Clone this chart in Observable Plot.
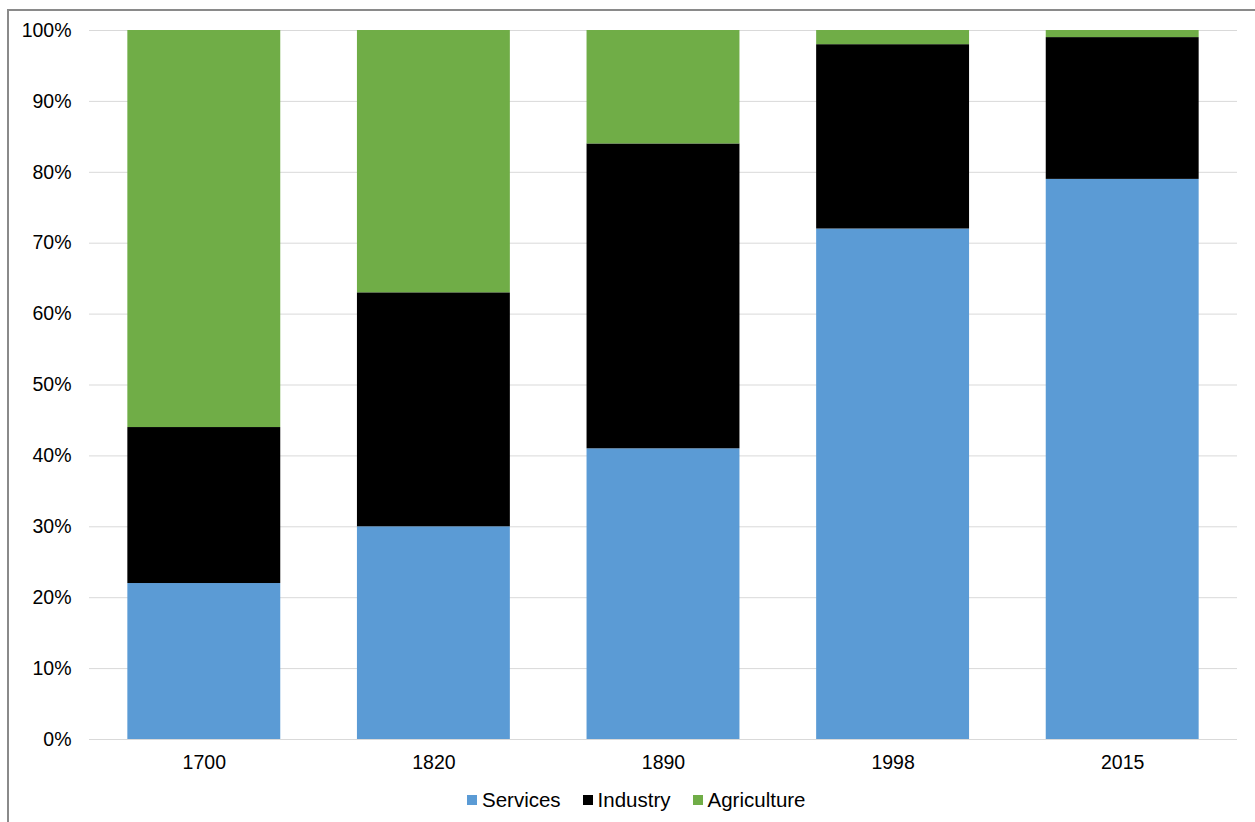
<!DOCTYPE html>
<html>
<head>
<meta charset="utf-8">
<script src="https://cdn.jsdelivr.net/npm/d3@7"></script>
<script src="https://cdn.jsdelivr.net/npm/@observablehq/plot@0.6"></script>
<style>
  html, body { margin: 0; padding: 0; background: #fff; overflow: hidden; }
  #page { position: relative; width: 1255px; height: 822px; font-family: "Liberation Sans", Arial, sans-serif; }
  #frame { position: absolute; left: 7px; top: 9px; width: 1300px; height: 900px; border-left: 2px solid #8a8a8a; border-top: 2px solid #8a8a8a; box-sizing: border-box; }
  #chart { position: absolute; left: 0; top: 0; }
  #legend { position: absolute; left: 467px; top: 788px; display: flex; align-items: center; font-size: 20.5px; color: #000; white-space: nowrap; }
  .item { display: flex; align-items: center; margin-right: 22px; }
  .sw { width: 10px; height: 10px; margin-right: 5px; }
</style>
</head>
<body>
<div id="page">
  <div id="frame"></div>
  <div id="chart"></div>
  <div id="legend"></div>
</div>
<script>
const years = ["1700", "1820", "1890", "1998", "2015"];
const sectors = ["Services", "Industry", "Agriculture"];
const colors = ["#5B9BD5", "#000000", "#70AD47"];
const services = [22, 30, 41, 72, 79];
const industry = [22, 33, 43, 26, 20];
const agriculture = [56, 37, 16, 2, 1];
const yTicks = [0, 10, 20, 30, 40, 50, 60, 70, 80, 90, 100];

const series = [services, industry, agriculture];
const data = [];
years.forEach((yr, i) => {
  sectors.forEach((s, j) => data.push({year: yr, sector: s, value: series[j][i]}));
});

const chart = Plot.plot({
  width: 1255,
  height: 785,
  marginLeft: 89,
  marginRight: 18,
  marginTop: 30,
  marginBottom: 46,
  style: {fontFamily: "'Liberation Sans', Arial, sans-serif", fontSize: "19.5px", color: "#000", background: "transparent"},
  x: {domain: years, paddingInner: 0.334, paddingOuter: 0.167, round: false, label: null},
  y: {domain: [0, 100], label: null},
  color: {domain: sectors, range: colors},
  marks: [
    Plot.ruleY(yTicks, {stroke: "#d9d9d9", strokeWidth: 1}),
    Plot.barY(data, {x: "year", y: "value", fill: "sector", order: sectors}),
    Plot.axisY(yTicks, {tickSize: 0, tickPadding: 18, tickFormat: d => d + "%", label: null}),
    Plot.axisX({tickSize: 0, tickPadding: 16, label: null})
  ]
});
document.getElementById("chart").appendChild(chart);

const legend = document.getElementById("legend");
sectors.forEach((s, j) => {
  const it = document.createElement("div");
  it.className = "item";
  const sw = document.createElement("div");
  sw.className = "sw";
  sw.style.background = colors[j];
  const t = document.createElement("span");
  t.textContent = s;
  it.appendChild(sw);
  it.appendChild(t);
  legend.appendChild(it);
});
</script>
</body>
</html>
